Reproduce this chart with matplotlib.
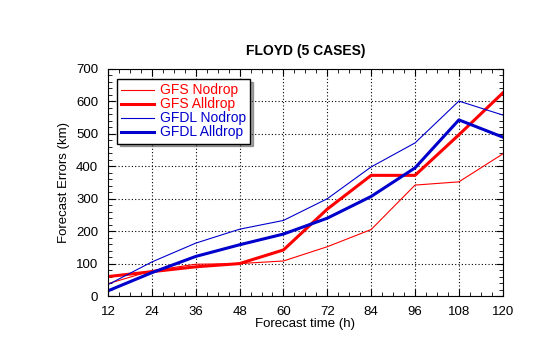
import matplotlib
matplotlib.use("Agg")
import matplotlib.pyplot as plt
from matplotlib.ticker import MultipleLocator

plt.rcParams['font.family'] = ['Liberation Sans', 'DejaVu Sans']

# Forecast hours and errors (km)
hours = [12, 24, 36, 48, 60, 72, 84, 96, 108, 120]
gfs_nodrop = [38, 78, 98, 100, 108, 152, 205, 342, 352, 438]
gfs_alldrop = [60, 75, 90, 100, 142, 268, 372, 372, 497, 626]
gfdl_nodrop = [35, 105, 163, 206, 233, 300, 398, 472, 601, 558]
gfdl_alldrop = [16, 72, 122, 158, 191, 240, 307, 395, 543, 490]

fig = plt.figure(figsize=(5.4, 3.44), dpi=100)
ax = fig.add_axes([0.2, 0.1395, 0.731, 0.66])

ax.plot(hours, gfs_nodrop, color='red', lw=0.8, label='GFS Nodrop')
ax.plot(hours, gfs_alldrop, color='red', lw=2.2, label='GFS Alldrop')
ax.plot(hours, gfdl_nodrop, color='#0000cc', lw=0.8, label='GFDL Nodrop')
ax.plot(hours, gfdl_alldrop, color='#0000cc', lw=2.2, label='GFDL Alldrop')

ax.set_xlim(12, 120)
ax.set_ylim(0, 700)
ax.xaxis.set_major_locator(MultipleLocator(12))
ax.xaxis.set_minor_locator(MultipleLocator(3))
ax.yaxis.set_major_locator(MultipleLocator(100))
ax.yaxis.set_minor_locator(MultipleLocator(20))
ax.tick_params(which='both', direction='in', top=True, right=True, labelsize=9.5)
ax.tick_params(which='major', length=5, pad=7)
ax.tick_params(which='minor', length=3)
ax.grid(True, which='major', color='black', linestyle=(0, (1, 2)), lw=0.8)

ax.set_title('FLOYD (5 CASES)', fontsize=10, fontweight='bold', pad=10)
ax.set_xlabel('Forecast time (h)', fontsize=9.5, labelpad=0)
ax.set_ylabel('Forecast Errors (km)', fontsize=9.5, labelpad=4)

leg = ax.legend(loc='upper left', fontsize=10, fancybox=False, shadow=True,
                framealpha=1, edgecolor='black', handlelength=2.4,
                handletextpad=0.4, borderpad=0.3, labelspacing=0.0,
                bbox_to_anchor=(0.005, 0.985))
for txt, line in zip(leg.get_texts(), leg.get_lines()):
    txt.set_color(line.get_color())

fig.savefig('out.png', dpi=100)
